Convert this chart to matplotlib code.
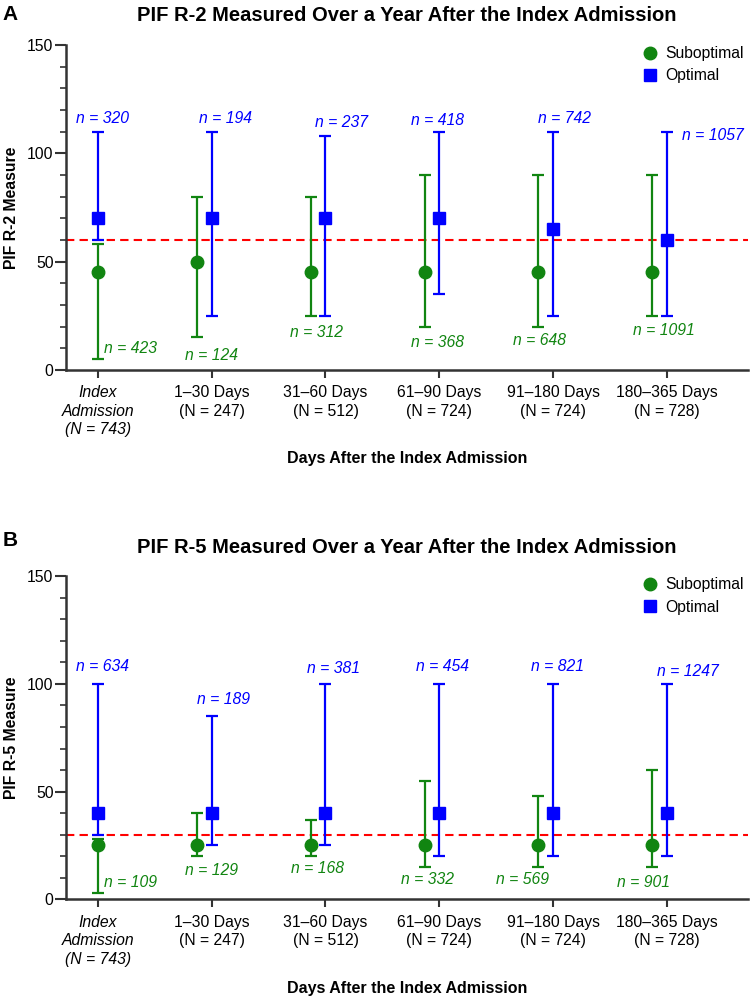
import matplotlib
matplotlib.use("Agg")
import matplotlib.pyplot as plt
from matplotlib.lines import Line2D

plt.rcParams['font.family'] = ['Liberation Sans', 'DejaVu Sans']

categories = ["Index\nAdmission\n(N = 743)", "1–30 Days\n(N = 247)", "31–60 Days\n(N = 512)",
              "61–90 Days\n(N = 724)", "91–180 Days\n(N = 724)", "180–365 Days\n(N = 728)"]

# Panel A: PIF R-2 (median, low, high)
r2_sub_med = [45, 50, 45, 45, 45, 45]
r2_sub_lo = [5, 15, 25, 20, 20, 25]
r2_sub_hi = [58, 80, 80, 90, 90, 90]
r2_opt_med = [70, 70, 70, 70, 65, 60]
r2_opt_lo = [60, 25, 25, 35, 25, 25]
r2_opt_hi = [110, 110, 108, 110, 110, 110]
r2_sub_n = [423, 124, 312, 368, 648, 1091]
r2_opt_n = [320, 194, 237, 418, 742, 1057]
r2_threshold = 60

# Panel B: PIF R-5
r5_sub_med = [25, 25, 25, 25, 25, 25]
r5_sub_lo = [3, 20, 20, 15, 15, 15]
r5_sub_hi = [28, 40, 37, 55, 48, 60]
r5_opt_med = [40, 40, 40, 40, 40, 40]
r5_opt_lo = [30, 25, 25, 20, 20, 20]
r5_opt_hi = [100, 85, 100, 100, 100, 100]
r5_sub_n = [109, 129, 168, 332, 569, 901]
r5_opt_n = [634, 189, 381, 454, 821, 1247]
r5_threshold = 30

# label anchor positions (x, y) for the n annotations
r2_opt_lab = [(0.04, 116), (1.12, 116), (2.14, 114), (2.98, 115), (4.10, 116), (5.40, 108)]
r2_sub_lab = [(0.29, 10), (1.0, 6.5), (1.92, 17.5), (2.98, 12.5), (3.88, 13.5), (4.97, 18)]
r5_opt_lab = [(0.04, 108), (1.10, 93), (2.07, 107), (3.03, 108), (4.04, 108), (5.18, 106)]
r5_sub_lab = [(0.29, 8), (1.0, 13.6), (1.93, 14.4), (2.90, 9), (3.73, 9), (4.79, 8)]

GREEN = "#118511"
BLUE = "#0000ff"
AXC = "#333333"

fig = plt.figure(figsize=(7.5, 9.98), dpi=100)


def panel(rect, letter, title, ylabel, sub, opt, sub_n, opt_n, sub_lab, opt_lab, thr, letter_y):
    ax = fig.add_axes(rect)
    x = list(range(len(categories)))
    xs = [i - 0.13 if i > 0 else i for i in x]
    smed, slo, shi = sub
    omed, olo, ohi = opt
    ax.axhline(thr, color="red", ls=(0, (4, 2.5)), lw=1.5, zorder=1)
    ax.errorbar(xs, smed, yerr=[[m - l for m, l in zip(smed, slo)], [h - m for m, h in zip(smed, shi)]],
                fmt="o", color=GREEN, ms=9, elinewidth=1.6, capsize=4.5, capthick=1.6, zorder=3)
    ax.errorbar(x, omed, yerr=[[m - l for m, l in zip(omed, olo)], [h - m for m, h in zip(omed, ohi)]],
                fmt="s", color=BLUE, ms=8.5, elinewidth=1.6, capsize=4.5, capthick=1.6, zorder=3)
    for i, n in enumerate(opt_n):
        ax.text(opt_lab[i][0], opt_lab[i][1], f"n = {n}", color=BLUE, style="italic",
                fontsize=11.3, ha="center", va="center")
    for i, n in enumerate(sub_n):
        ax.text(sub_lab[i][0], sub_lab[i][1], f"n = {n}", color=GREEN, style="italic",
                fontsize=11.3, ha="center", va="center")

    ax.set_xlim(-0.28, 5.71)
    ax.set_ylim(0, 150)
    ax.set_yticks([0, 50, 100, 150])
    ax.set_yticks(range(0, 151, 10), minor=True)
    ax.set_xticks(x)
    ax.set_xticklabels(categories, fontsize=11.3, linespacing=1.3)
    ax.get_xticklabels()[0].set_style("italic")
    ax.tick_params(axis="y", which="major", length=8, width=1.5, color=AXC, labelsize=11.3, pad=1)
    ax.tick_params(axis="y", which="minor", length=4, width=1.2, color=AXC)
    ax.tick_params(axis="x", length=6, width=1.5, color=AXC, pad=5)
    for s in ["top", "right"]:
        ax.spines[s].set_visible(False)
    for s in ["left", "bottom"]:
        ax.spines[s].set_color(AXC)
        ax.spines[s].set_linewidth(1.8)
    ax.set_ylabel(ylabel, fontsize=11.3, fontweight="bold", labelpad=6)
    ax.set_xlabel("Days After the Index Admission", fontsize=11.5, fontweight="bold", labelpad=10)
    ax.set_title(title, fontsize=14.5, fontweight="bold", pad=17)
    handles = [Line2D([], [], marker="o", ls="", color=GREEN, ms=9, label="Suboptimal"),
               Line2D([], [], marker="s", ls="", color=BLUE, ms=8.5, label="Optimal")]
    ax.legend(handles=handles, frameon=False, loc="upper right", bbox_to_anchor=(1.015, 1.04),
              fontsize=11.3, handlelength=1.0, handletextpad=0.45, labelspacing=0.45)
    fig.text(0.003, letter_y, letter, fontsize=15, fontweight="bold", va="center")
    return ax


panel([0.088, 0.6293, 0.909, 0.3257], "A", "PIF R-2 Measured Over a Year After the Index Admission",
      "PIF R-2 Measure", (r2_sub_med, r2_sub_lo, r2_sub_hi), (r2_opt_med, r2_opt_lo, r2_opt_hi),
      r2_sub_n, r2_opt_n, r2_sub_lab, r2_opt_lab, r2_threshold, 1 - 14 / 998)
panel([0.088, 0.0989, 0.909, 0.3237], "B", "PIF R-5 Measured Over a Year After the Index Admission",
      "PIF R-5 Measure", (r5_sub_med, r5_sub_lo, r5_sub_hi), (r5_opt_med, r5_opt_lo, r5_opt_hi),
      r5_sub_n, r5_opt_n, r5_sub_lab, r5_opt_lab, r5_threshold, 1 - 540 / 998)

fig.savefig("out.png", dpi=100)
